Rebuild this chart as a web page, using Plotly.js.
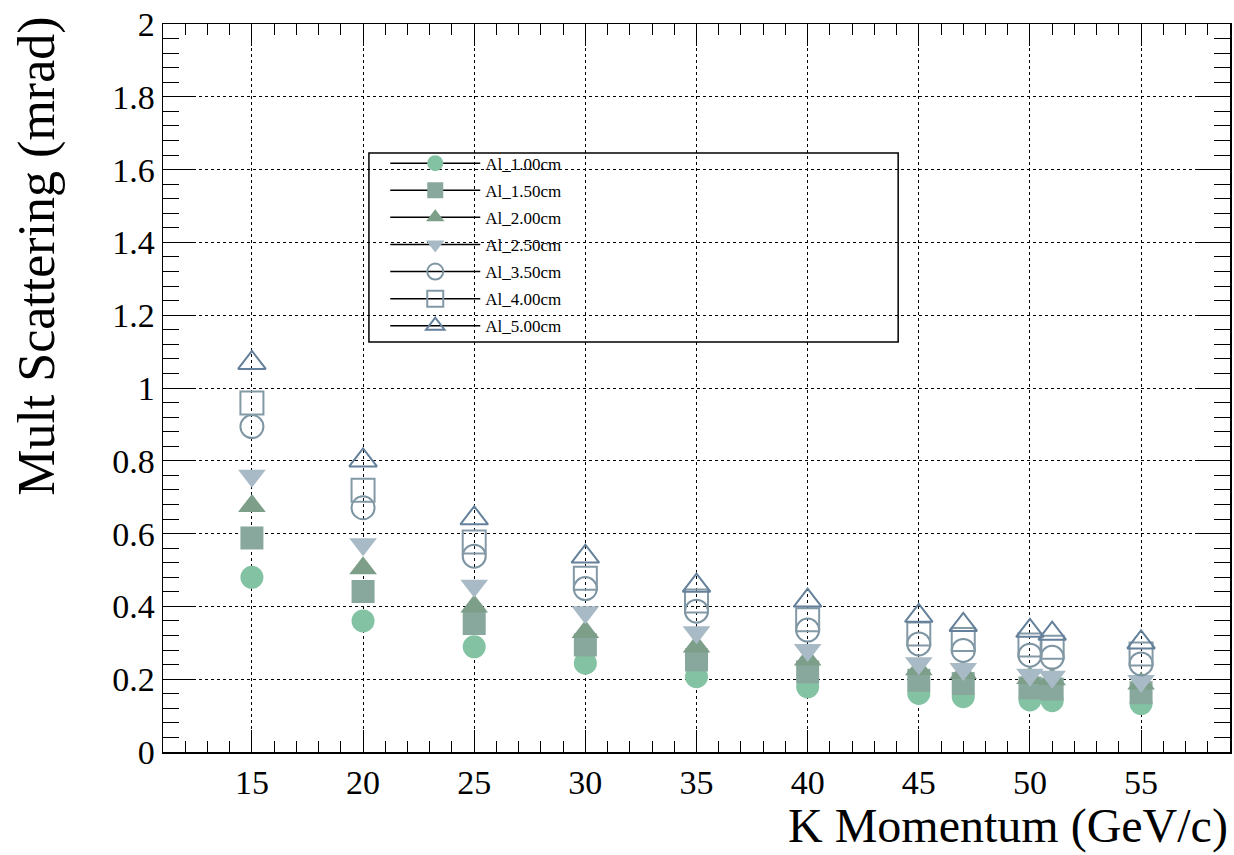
<!DOCTYPE html>
<html>
<head>
<meta charset="utf-8">
<script src="https://cdn.plot.ly/plotly-3.0.1.min.js"></script>
<style>html,body{margin:0;padding:0;background:#fff;}#chart{width:1234px;height:855px;}</style>
</head>
<body>
<div id="chart"></div>
<script>
// K momentum (GeV/c)
const momentum = [15, 20, 25, 30, 35, 40, 45, 47, 50, 51, 55];
// Multiple scattering (mrad) per aluminium thickness
const al_100 = [0.480, 0.360, 0.289, 0.244, 0.207, 0.179, 0.161, 0.152, 0.143, 0.141, 0.133];
const al_150 = [0.588, 0.441, 0.353, 0.294, 0.253, 0.220, 0.197, 0.188, 0.176, 0.173, 0.163];
const al_200 = [0.676, 0.505, 0.400, 0.330, 0.290, 0.254, 0.227, 0.217, 0.203, 0.200, 0.188];
const al_250 = [0.759, 0.571, 0.457, 0.384, 0.329, 0.280, 0.244, 0.228, 0.212, 0.207, 0.195];
const al_350 = [0.894, 0.671, 0.538, 0.449, 0.387, 0.335, 0.297, 0.279, 0.266, 0.260, 0.242];
const al_400 = [0.959, 0.719, 0.577, 0.477, 0.415, 0.363, 0.324, 0.309, 0.294, 0.288, 0.269];
const al_500 = [1.069, 0.801, 0.642, 0.537, 0.457, 0.416, 0.374, 0.349, 0.333, 0.325, 0.301];

const seriesNames = ["Al_1.00cm", "Al_1.50cm", "Al_2.00cm", "Al_2.50cm", "Al_3.50cm", "Al_4.00cm", "Al_5.00cm"];
const seriesValues = [al_100, al_150, al_200, al_250, al_350, al_400, al_500];
const symbols = ["circle", "square", "triangle-up", "triangle-down", "circle-open", "square-open", "triangle-up-open"];
const colors = ["#83c3a3", "#88a89e", "#7d9e89", "#a8bac6", "#7d95a3", "#8499a6", "#64809a"];
const sizes = [23, 23, 24, 24, 23, 23, 24];

const font = "Liberation Serif, Times New Roman, serif";
const traces = [];
seriesNames.forEach((name, i) => {
  const open = symbols[i].endsWith("open");
  traces.push({
    type: "scatter", mode: "markers", name: name,
    x: momentum, y: seriesValues[i],
    showlegend: false, legendgroup: name,
    marker: {symbol: symbols[i], size: sizes[i], color: colors[i],
             line: {width: open ? 2 : 0, color: colors[i]}},
    hoverinfo: "x+y+name"
  });
});
// legend-only entries (line + marker, ROOT style)
seriesNames.forEach((name, i) => {
  const open = symbols[i].endsWith("open");
  traces.push({
    type: "scatter", mode: "lines+markers", name: name,
    x: [null], y: [null], legendgroup: name, showlegend: true,
    line: {color: "#000", width: 1.5},
    marker: {symbol: symbols[i], size: 16, color: colors[i],
             line: {width: open ? 2 : 0, color: colors[i]}}
  });
});

const layout = {
  width: 1234, height: 855,
  margin: {l: 163, r: 4, t: 24, b: 103},
  paper_bgcolor: "#fff", plot_bgcolor: "#fff",
  font: {family: font, color: "#000"},
  showlegend: true,
  legend: {
    x: 0.2083, y: 0.833, xanchor: "left", yanchor: "top",
    bgcolor: "rgba(0,0,0,0)", borderwidth: 0,
    font: {family: font, size: 17, color: "#000"},
    tracegroupgap: 2, itemwidth: 90, traceorder: "grouped"
  },
  xaxis: {
    range: [11, 59], tickvals: [15, 20, 25, 30, 35, 40, 45, 50, 55],
    ticks: "inside", ticklen: 22, tickwidth: 1, tickcolor: "#000",
    showline: true, linecolor: "#000", linewidth: 1.5, mirror: "allticks",
    showgrid: true, gridcolor: "#000", gridwidth: 1, griddash: "3px,3px",
    zeroline: false,
    minor: {dtick: 1, ticks: "inside", ticklen: 11, tickcolor: "#000", showgrid: false},
    tickfont: {family: font, size: 34, color: "#000"}
  },
  yaxis: {
    range: [0, 2], dtick: 0.2, tick0: 0,
    ticks: "inside", ticklen: 32, tickwidth: 1, tickcolor: "#000",
    showline: true, linecolor: "#000", linewidth: 1.5, mirror: "allticks",
    showgrid: true, gridcolor: "#000", gridwidth: 1, griddash: "3px,3px",
    zeroline: false,
    minor: {dtick: 0.04, ticks: "inside", ticklen: 16, tickcolor: "#000", showgrid: false},
    tickfont: {family: font, size: 34, color: "#000"},
    tickformat: "~g"
  },
  shapes: [{
    type: "rect", xref: "paper", yref: "paper",
    x0: 0.193, x1: 0.689, y0: 0.5632, y1: 0.8228,
    line: {color: "#000", width: 1.5}, fillcolor: "rgba(0,0,0,0)", layer: "below"
  }],
  annotations: [
    {text: "Mult Scattering (mrad)", xref: "paper", yref: "paper", x: -0.118, y: 1.012,
     xanchor: "center", yanchor: "top", textangle: -90, showarrow: false,
     font: {family: font, size: 52, color: "#000"}},
    {text: "K Momentum (GeV/c)", xref: "paper", yref: "paper", x: 1.0, y: -0.062,
     xanchor: "right", yanchor: "top", showarrow: false,
     font: {family: font, size: 48, color: "#000"}}
  ]
};

Plotly.newPlot("chart", traces, layout, {displayModeBar: false, staticPlot: true});
</script>
</body>
</html>
